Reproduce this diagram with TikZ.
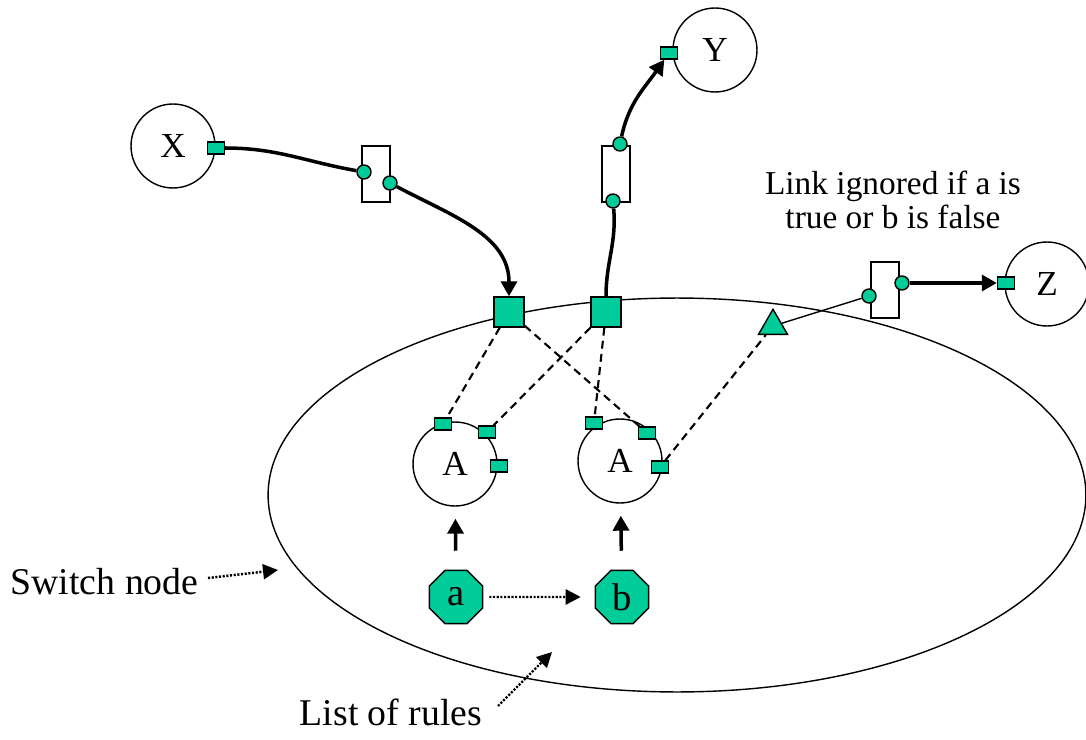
\documentclass[tikz,border=0pt]{standalone}
\usepackage{fontspec}
\setmainfont{Liberation Serif}
\usetikzlibrary{shapes.geometric, arrows.meta, positioning}
\definecolor{portgreen}{RGB}{0,204,153}

\begin{document}
\begin{tikzpicture}[x=0.02cm, y=-0.02cm, line width=0.8pt,
	unit/.style={draw, circle, minimum size=1.68cm, inner sep=0pt, font=\fontsize{20}{24}\selectfont},
	port/.style={draw, fill=portgreen, minimum width=0.34cm, minimum height=0.24cm, inner sep=0pt},
	pin/.style={draw, circle, fill=portgreen, minimum size=0.28cm, inner sep=0pt},
	linkbox/.style={draw, fill=white, minimum width=0.56cm, minimum height=1.12cm, inner sep=0pt},
	gate/.style={draw, fill=portgreen, minimum size=0.6cm, inner sep=0pt},
	rule/.style={draw, fill=portgreen, regular polygon, regular polygon sides=8, minimum size=1.15cm, inner sep=0pt, font=\fontsize{22}{24}\selectfont},
	heavy/.style={line width=2pt, -{Triangle[length=0.3cm, width=0.32cm]}},
	hint/.style={line width=1.4pt, dash pattern=on 1.2pt off 0.9pt, -{Triangle[length=0.3cm, width=0.3cm]}},
	cross/.style={line width=1.2pt, dash pattern=on 4.5pt off 3pt},
	txt/.style={font=\fontsize{21.5}{25}\selectfont}]
	\useasboundingbox (0,0) rectangle (1086,740);
	% switch node
	\node[draw, ellipse, minimum width=16.36cm, minimum height=7.88cm, inner sep=0pt] (sw) at (677,495) {};
	% inner units and their ports
	\node[unit] (a1) at (455,464) {A};
	\node[unit] (a2) at (620,461) {A};
	\foreach \n/\x/\y in {11/443/424, 12/487/432, 13/499/466, 21/594/423, 22/647/433, 23/660/467}
		\node[port] (p\n) at (\x,\y) {};
	\node[gate] (sq1) at (509,312) {};
	\node[gate] (sq2) at (606,312) {};
	\node[draw, fill=portgreen, regular polygon, regular polygon sides=3, minimum size=0.67cm, inner sep=0pt] (tri) at (773,326) {};
	% rules
	\node[rule] (ra) at (456,597) {a};
	\node[rule] (rb) at (622,597) {b};
	% outer units
	\node[unit] (x) at (173,146) {X};
	\node[unit] (y) at (715,50) {Y};
	\node[unit] (z) at (1047,284) {Z};
	\node[port] (xp) at (216,148) {};
	\node[port] (yp) at (669,53) {};
	\node[port] (zp) at (1006,283) {};
	% links
	\node[linkbox] (lx) at (376,174) {};
	\node[linkbox] (ly) at (616,174) {};
	\node[linkbox] (lz) at (885,290) {};
	\node[pin] (lx1) at (364,172) {};
	\node[pin] (lx2) at (390,183) {};
	\node[pin] (ly1) at (620,144) {};
	\node[pin] (ly2) at (613,201) {};
	\node[pin] (lz1) at (869,296) {};
	\node[pin] (lz2) at (902,283) {};
	\draw[line width=2pt] (xp) to[out=0, in=170] (lx1);
	\draw[heavy] (lx2) to[out=-28, in=90] (sq1);
	\draw[line width=2pt] (sq2) to[out=90, in=-85] (ly2);
	\draw[heavy] (ly1) to[out=78, in=235] (yp);
	\draw (tri) -- (lz1);
	\draw[heavy] (lz2) -- (zp);
	% mapping of gates onto inner ports
	\draw[cross] (sq1) -- (p11);
	\draw[cross] (sq1) -- (p22);
	\draw[cross] (sq2) -- (p12);
	\draw[cross] (sq2) -- (p21);
	\draw[cross] (p23) -- (tri);
	% rules activate units
	\draw[heavy, shorten <=0.38cm, shorten >=0.24cm] (ra) -- (a1);
	\draw[heavy, shorten <=0.38cm, shorten >=0.24cm] (rb) -- (a2);
	\draw[hint, shorten <=0.12cm, shorten >=0.28cm] (ra) -- (rb);
	% labels
	\node[font=\fontsize{19}{19.5}\selectfont, align=center] (cond) at (893,200) {Link ignored if a is\\true or b is false};
	\node[txt, anchor=east] (swl) at (205,582) {Switch node};
	\node[txt] (rl) at (391,712) {List of rules};
	\coordinate (swtip) at (278,570);
	\coordinate (rltip) at (552,652);
	\draw[hint] ([xshift=0.06cm, yshift=0.08cm]swl.east) -- (swtip);
	\draw[hint] (498,706) coordinate (rlfoot) -- (rltip);
\end{tikzpicture}
\end{document}
